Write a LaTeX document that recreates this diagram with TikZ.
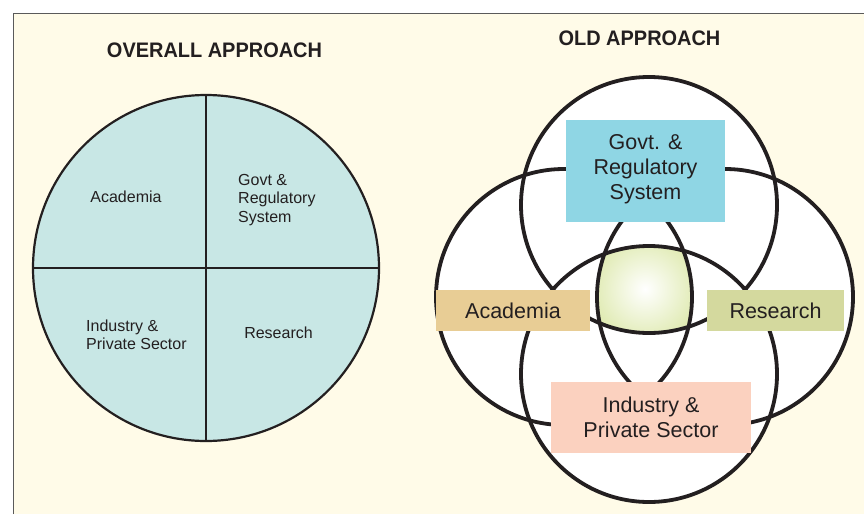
\documentclass[tikz,border=0pt]{standalone}
\usepackage{fontspec}
\setmainfont{Liberation Sans}
\newfontfamily\headfont[FakeStretch=0.95]{Liberation Sans}
\definecolor{cream}{RGB}{255,251,232}
\definecolor{framegray}{RGB}{90,90,90}
\definecolor{quadblue}{RGB}{200,231,229}
\definecolor{govtblue}{RGB}{143,214,228}
\definecolor{acadtan}{RGB}{232,205,149}
\definecolor{resgreen}{RGB}{212,217,158}
\definecolor{indpink}{RGB}{251,209,191}
\definecolor{hubgreen}{RGB}{208,224,140}
\definecolor{ink}{RGB}{35,31,32}

\begin{document}
\begin{tikzpicture}[x=1pt,y=-1pt]
\tikzstyle{every node}+=[inner sep=0pt]
\tikzstyle{ring}=[line width=3.8pt, ink]
\tikzstyle{tag}=[align=center, text=ink, font=\fontsize{21.5}{25}\selectfont]
\tikzstyle{quad}=[align=left, text=ink, font=\fontsize{16}{18.5}\selectfont]
\tikzstyle{head}=[text=ink, font=\headfont\bfseries\fontsize{21}{24}\selectfont]
\useasboundingbox (0,0) rectangle (864,514);
\fill [cream] (13,13) rectangle (864,514);
\draw [framegray, line width=1pt] (13,514) -- (13,13) -- (864,13);
\node [head] (overall) at (214.5,50) {OVERALL APPROACH};
\node [head] (old) at (639.5,38) {OLD APPROACH};
\coordinate (pie) at (206,268);
\draw [ink, line width=2.2pt, fill=quadblue] (pie) circle (173);
\draw [ink, line width=1.3pt] (pie) ++(0,-173) -- ++(0,346);
\draw [ink, line width=1.3pt] (pie) ++(-173,0) -- ++(346,0);
\node [quad] (qacad) at (126,197) {Academia};
\node [quad, anchor=west] (qgovt) at (238,200) {Govt \&\\Regulatory\\System};
\node [quad, anchor=west] (qind) at (86,335) {Industry \&\\Private Sector};
\node [quad] (qres) at (278.5,333) {Research};
\coordinate (ctop) at (649,205);
\coordinate (cleft) at (564,297);
\coordinate (cright) at (725,297);
\coordinate (cbot) at (649,374);
\coordinate (hub) at (645,289);
\fill [white] (ctop) circle (128) (cleft) circle (128) (cright) circle (128) (cbot) circle (128);
\begin{scope}
\clip (ctop) circle (128);
\clip (cleft) circle (128);
\clip (cright) circle (128);
\clip (cbot) circle (128);
\shade [inner color=white, outer color=hubgreen] (hub) ++(-80,-80) rectangle ++(160,160);
\end{scope}
\draw [ring] (ctop) circle (128);
\draw [ring] (cleft) circle (128);
\draw [ring] (cright) circle (128);
\draw [ring] (cbot) circle (128);
\node [tag, fill=govtblue, minimum width=159, minimum height=102, text depth=8pt] (govt) at (645.5,171) {Govt. \&\\Regulatory\\System};
\node [tag, fill=acadtan, minimum width=154, minimum height=41] (acad) at (513,310.5) {Academia};
\node [tag, fill=resgreen, minimum width=137, minimum height=41] (res) at (775.5,310.5) {Research};
\node [tag, fill=indpink, minimum width=200, minimum height=71] (ind) at (651,417.5) {Industry \&\\Private Sector};
\end{tikzpicture}
\end{document}
